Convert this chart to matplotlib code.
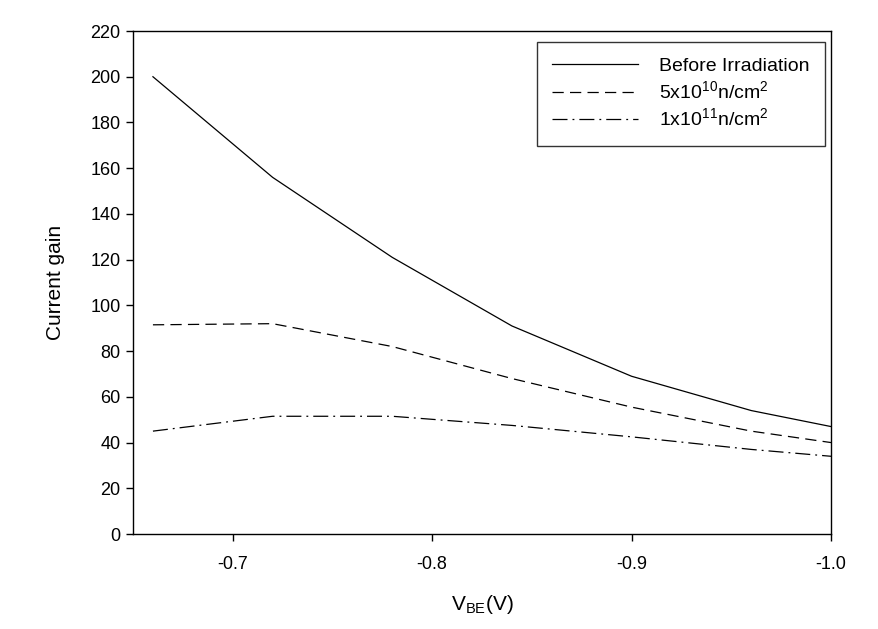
import matplotlib
matplotlib.use("Agg")
import matplotlib.pyplot as plt

plt.rcParams['font.family'] = ['Liberation Sans', 'DejaVu Sans']
plt.rcParams['axes.unicode_minus'] = False

vbe = [-0.66, -0.72, -0.78, -0.84, -0.90, -0.96, -1.00]
gain_before = [200, 156, 121, 91, 69, 54, 47]
gain_5e10 = [91.5, 92, 82, 68, 55.5, 45, 40]
gain_1e11 = [45, 51.5, 51.5, 47.5, 42.5, 37, 34]

labels = ['Before Irradiation',
          r'5x10$^{\mathregular{10}}$n/cm$^{\mathregular{2}}$',
          r'1x10$^{\mathregular{11}}$n/cm$^{\mathregular{2}}$']

fig = plt.figure(figsize=(8.79, 6.29), dpi=100)
ax = fig.add_axes([0.1513, 0.151, 0.7941, 0.7997])

ax.plot(vbe, gain_before, color='black', linewidth=0.9, label=labels[0])
ax.plot(vbe, gain_5e10, color='black', linewidth=0.9, dashes=(9, 5), label=labels[1])
ax.plot(vbe, gain_1e11, color='black', linewidth=0.9, dashes=(12, 4, 1.5, 4), label=labels[2])

ax.set_xlim(-0.65, -1.0)
ax.set_ylim(0, 220)
ax.set_xticks([-0.7, -0.8, -0.9, -1.0])
ax.set_xticklabels(['-0.7', '-0.8', '-0.9', '-1.0'])
ax.set_yticks(range(0, 221, 20))
ax.tick_params(direction='out', length=5, width=1, labelsize=13, pad=4)
ax.tick_params(axis='x', pad=11)
for s in ax.spines.values():
    s.set_linewidth(1)

ax.set_ylabel('Current gain', fontsize=15, labelpad=18)
ax.set_xlabel(r'V$_{\mathregular{BE}}$(V)', fontsize=15, labelpad=14)

leg = ax.legend(loc='upper right', bbox_to_anchor=(0.9915, 0.978), borderaxespad=0,
                fontsize=14, frameon=True, fancybox=False, edgecolor='black',
                handlelength=4.4, handletextpad=1.1, labelspacing=0.25,
                borderpad=0.8)
leg.get_frame().set_linewidth(1)

fig.savefig('out.png', dpi=100)
